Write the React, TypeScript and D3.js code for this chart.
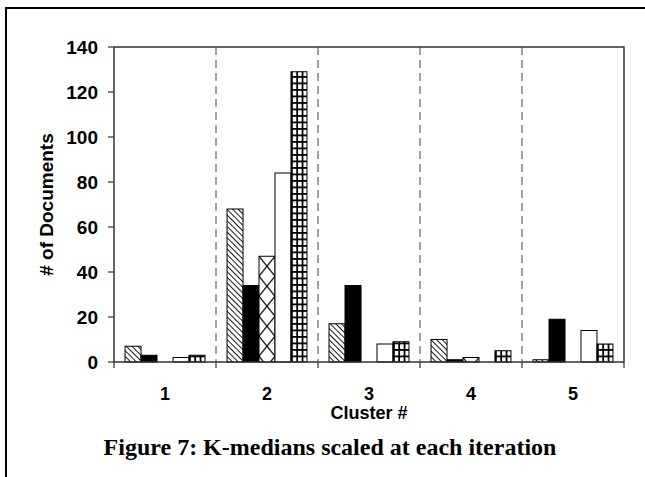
import React from "react";
import * as d3 from "d3";

// chart data
const clusters = ["1", "2", "3", "4", "5"];
const seriesNames = ["run1", "run2", "run3", "run4", "run5"];
const run1 = [7, 68, 17, 10, 1]; // diagonal hatch
const run2 = [3, 34, 34, 1, 19]; // solid black
const run3 = [0, 47, 0, 2, 0]; // cross hatch
const run4 = [2, 84, 8, 0, 14]; // white
const run5 = [3, 129, 9, 5, 8]; // grid
const yTicks = [0, 20, 40, 60, 80, 100, 120, 140];

const W = 645;
const H = 477;
const margin = { top: 47, right: 21, bottom: 115, left: 114 };

export default function App() {
  const series = [run1, run2, run3, run4, run5];

  const x0 = d3
    .scaleBand()
    .domain(clusters)
    .range([margin.left, W - margin.right])
    .padding(0);

  const x1 = d3
    .scaleBand()
    .domain(seriesNames)
    .range([0, x0.bandwidth()])
    .paddingInner(0)
    .paddingOuter(0.69);

  const y = d3
    .scaleLinear()
    .domain([0, 140])
    .range([H - margin.bottom, margin.top]);

  const fills = ["url(#diag)", "#000", null, "#fff", null];
  const font = "'Liberation Sans', Arial, sans-serif";
  const axisColor = "#333";
  const bottom = y(0);
  const right = W - margin.right;

  const bars = [];
  const defs = [];
  clusters.forEach((c, ci) => {
    seriesNames.forEach((s, si) => {
      const v = series[si][ci];
      if (!v) return;
      const bx = x0(c) + x1(s);
      const bw = x1.bandwidth();
      let fill = fills[si];
      if (si === 2) {
        const id = `cross-${ci}`;
        defs.push(
          <pattern key={id} id={id} patternUnits="userSpaceOnUse" x={bx} y={y(v)} width={bw} height={20}>
            <rect width={bw} height={20} fill="#fff" />
            <path d={`M0,0L${bw},20M${bw},0L0,20`} stroke="#000" strokeWidth={1.2} />
          </pattern>
        );
        fill = `url(#${id})`;
      }
      if (si === 4) {
        const id = `grid-${ci}`;
        const cw = bw / 3;
        defs.push(
          <pattern key={id} id={id} patternUnits="userSpaceOnUse" x={bx} y={bottom} width={cw} height={6.5}>
            <rect width={cw} height={6.5} fill="#fff" />
            <rect width={1.8} height={6.5} fill="#000" />
            <rect width={cw} height={1.8} fill="#000" />
          </pattern>
        );
        fill = `url(#${id})`;
      }
      bars.push(
        <rect
          key={`${ci}-${si}`}
          x={bx}
          y={y(v)}
          width={bw}
          height={bottom - y(v)}
          fill={fill}
          stroke="#000"
          strokeWidth={1}
        />
      );
    });
  });

  const bounds = clusters.map((c) => x0(c)).concat([right]);

  return (
    <div>
      <style>{`body{margin:0}`}</style>
      <svg width={W} height={H} style={{ display: "block" }}>
        <defs>
          <pattern id="diag" patternUnits="userSpaceOnUse" width={4} height={4} patternTransform="rotate(-45)">
            <rect width={4} height={4} fill="#fff" />
            <line x1={0} y1={0} x2={0} y2={4} stroke="#000" strokeWidth={1.8} />
          </pattern>
          {defs}
        </defs>
        <rect width={W} height={H} fill="#fff" />
        {/* outer frame */}
        <path d={`M6,${H}V8H${W}`} fill="none" stroke="#000" strokeWidth={2} />

        {/* dashed cluster separators */}
        {bounds.slice(1, -1).map((b, i) => (
          <line key={i} x1={b} x2={b} y1={margin.top} y2={bottom} stroke="#444" strokeWidth={1} strokeDasharray="8,5" />
        ))}

        {bars}

        {/* plot frame */}
        <path d={`M${margin.left},${margin.top}H${right}V${bottom}`} fill="none" stroke={axisColor} strokeWidth={1.5} />
        <line x1={margin.left} x2={margin.left} y1={margin.top} y2={bottom} stroke={axisColor} strokeWidth={1.5} />
        <line x1={margin.left} x2={right} y1={bottom} y2={bottom} stroke={axisColor} strokeWidth={1.5} />

        {/* y ticks */}
        {yTicks.map((t) => (
          <g key={t}>
            <line x1={margin.left - 6} x2={margin.left} y1={y(t)} y2={y(t)} stroke={axisColor} strokeWidth={1.2} />
            <text x={margin.left - 16} y={y(t)} dy="0.36em" textAnchor="end" fontFamily={font} fontWeight="bold" fontSize={19}>
              {t}
            </text>
          </g>
        ))}

        {/* x ticks */}
        {bounds.map((b, i) => (
          <line key={i} x1={b} x2={b} y1={bottom} y2={bottom + 6} stroke={axisColor} strokeWidth={1.2} />
        ))}
        {clusters.map((c) => (
          <text key={c} x={x0(c) + x0.bandwidth() / 2} y={400} textAnchor="middle" fontFamily={font} fontWeight="bold" fontSize={18}>
            {c}
          </text>
        ))}

        <text x={(margin.left + right) / 2} y={419} textAnchor="middle" fontFamily={font} fontWeight="bold" fontSize={18}>
          Cluster #
        </text>
        <text
          transform={`translate(53,${(margin.top + bottom) / 2}) rotate(-90)`}
          textAnchor="middle"
          fontFamily={font}
          fontWeight="bold"
          fontSize={19}
        >
          # of Documents
        </text>

        <text x={330} y={455} textAnchor="middle" fontFamily="'Liberation Serif', 'Times New Roman', serif" fontWeight="bold" fontSize={24}>
          Figure 7: K-medians scaled at each iteration
        </text>
      </svg>
    </div>
  );
}
